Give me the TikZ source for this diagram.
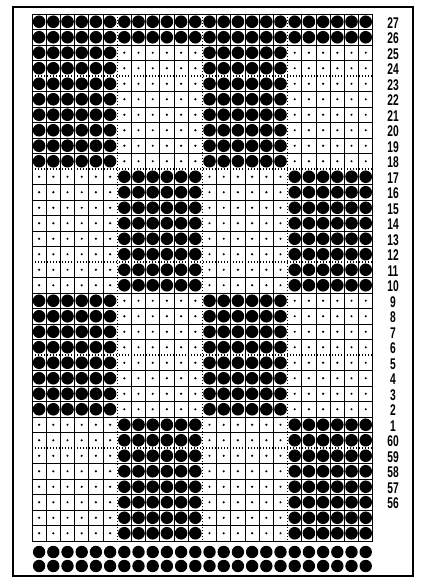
\documentclass[tikz,border=0pt]{standalone}
\usepackage{fontspec}
\setmainfont{Liberation Sans}
\usepackage{graphicx}
\usepackage{tikz}

\begin{document}
\begin{tikzpicture}[x=1pt, y=-1pt,
    gridline/.style={line width=0.8pt},
    repeatline/.style={line width=1.2pt, dash pattern=on 1.2pt off 1.8pt},
    rowlab/.style={font=\bfseries\fontsize{15.5}{15.5}\selectfont, inner sep=0pt}]
    \useasboundingbox (0,0) rectangle (422,577);

    % Frame
    \draw[line width=1.8pt] (13,7) rectangle (413,576);

    % Grid, solid lines
    \foreach \k in {0,1,2,3,5,6,7,8,9,11,12,13,14,15,17,18,19,20,21,23,24,25,26,27,29,30,31,32,33,34}
        \draw[gridline] (32,{14+15.5*\k}) -- (373,{14+15.5*\k});
    \foreach \k in {0,1,2,3,4,5,7,8,9,10,11,13,14,15,16,17,19,20,21,22,23,24}
        \draw[gridline] ({32+14.2*\k},14) -- ({32+14.2*\k},541);

    % Grid, dotted repeat lines
    \foreach \k in {4,10,16,22,28}
        \draw[repeatline] (32,{14+15.5*\k}) -- (373,{14+15.5*\k});
    \foreach \k in {6,12,18}
        \draw[repeatline] ({32+14.2*\k},14) -- ({32+14.2*\k},541);

    % Stitches
    \foreach \r in {0,...,33} {
        \foreach \c in {0,...,23} {
            \pgfmathtruncatemacro\blk{\r<10 ? 0 : (\r<18 ? 1 : (\r<26 ? 2 : 3))}
            \pgfmathtruncatemacro\dark{(\r<2) || (mod(\blk+int(\c/6),2)==0)}
            \ifnum\dark=1
                \fill ({32+14.2*(\c+0.5)},{14+15.5*(\r+0.5)}) circle (6.3pt);
            \else
                \fill ({32+14.2*(\c+0.5)},{14+15.5*(\r+0.5)}) circle (1.2pt);
            \fi
        }
    }

    % Welt below the grid
    \foreach \y in {552,566}
        \foreach \c in {0,...,23}
            \fill ({32+14.2*(\c+0.5)},\y) circle (6.2pt);

    % Row numbers
    \foreach \lab [count=\i from 0] in {27,26,25,24,23,22,21,20,19,18,17,16,15,14,13,12,11,10,9,8,7,6,5,4,3,2,1,60,59,58,57,56}
        \node[rowlab] (lab\lab) at (393,{14+15.5*(\i+0.5)+1}) {\scalebox{0.66}[1]{\lab}};
\end{tikzpicture}
\end{document}
